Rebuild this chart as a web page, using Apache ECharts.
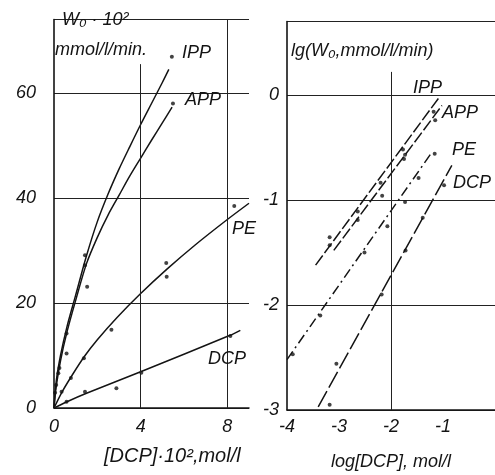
<!DOCTYPE html>
<html><head><meta charset="utf-8">
<script src="https://cdn.jsdelivr.net/npm/echarts@6/dist/echarts.min.js"></script>
<style>html,body{margin:0;padding:0;background:#fff}#c{width:495px;height:475px}</style>
</head><body><div id="c"></div>
<script>
// ---- tick labels ----
const leftXTicks = [0, 4, 8];
const leftYTicks = [0, 20, 40, 60];
const rightXTicks = [-4, -3, -2, -1];
const rightYTicks = [-3, -2, -1, 0];
// vertical grid lines [x, yFrom, yTo]
const leftVGrid = [[4, 0, 65.5], [8, 0, 74]];
const rightVGrid = [[-2, -3, 0.22]];

// ---- left panel: W0·10^2 vs [DCP]·10^2 (curves) ----
const leftCurveIPP = [[0,0],[0.1,5],[0.3,10],[0.6,15.5],[1,21.5],[1.5,29],[2,35.5],[2.5,40.8],[3,45.5],[3.5,49.8],[4,54],[4.5,58],[5,62],[5.3,64.5]];
const leftCurveAPP = [[0,0],[0.1,4],[0.3,9],[0.6,14.5],[1,20.5],[1.5,27.5],[2,32.5],[2.5,36.8],[3,40.5],[3.5,44.2],[4,47.6],[4.5,51],[5,54.3],[5.45,57.3]];
const leftCurvePE  = [[0,0],[0.35,2.9],[0.8,6],[1.4,9.8],[2,13],[2.9,17.2],[4,21.8],[5.2,26.4],[6.5,31],[8,35.9],[9,39]];
const leftCurveDCP = [[0,0],[0.6,1.2],[1.5,2.8],[4,6.9],[8.1,13.8],[8.6,14.8]];
// measured points
const leftPtsIPP = [[0.1,4.4],[0.2,6.6],[0.58,14.2],[1.43,29.1],[5.44,66.9]];
const leftPtsAPP = [[0.05,2.9],[0.25,7.6],[0.58,10.4],[1.43,27.2],[1.53,23.1],[5.49,58]];
const leftPtsPE  = [[0.35,3.1],[0.78,5.7],[1.38,9.5],[2.65,14.9],[5.18,27.6],[5.2,25],[8.32,38.5]];
const leftPtsDCP = [[0.58,1.2],[1.43,3.1],[2.88,3.75],[4.03,6.7],[8.14,13.7]];

// ---- right panel: lg W0 vs log[DCP] ----
const rightLineIPP = [[-3.45,-1.62],[-1.07,-0.02]];
const rightLineAPP = [[-3.1,-1.48],[-1.02,-0.1]];
const rightLinePE  = [[-4,-2.52],[-1.22,-0.55]];
const rightLineDCP = [[-3.4,-2.97],[-0.83,-0.67]];
const rightPtsIPP = [[-3.18,-1.355],[-2.64,-1.11],[-2.2,-0.835],[-1.77,-0.52],[-1.18,-0.16]];
const rightPtsAPP = [[-3.18,-1.43],[-2.64,-1.19],[-2.17,-0.96],[-1.75,-0.61],[-1.73,-0.57],[-1.15,-0.24]];
const rightPtsPE  = [[-3.89,-2.47],[-3.36,-2.10],[-2.51,-1.50],[-2.07,-1.25],[-1.73,-1.02],[-1.47,-0.79],[-1.16,-0.56]];
const rightPtsDCP = [[-3.18,-2.95],[-3.05,-2.56],[-2.18,-1.90],[-1.72,-1.48],[-1.39,-1.17],[-0.98,-0.86]];

const INK = '#141414';
const FONT = '"Liberation Sans", Arial, sans-serif';
const lblBase = {color: INK, fontFamily: FONT, fontStyle: 'italic', fontSize: 18};

function curve(data, xi, type, smooth) {
  return {type: 'line', xAxisIndex: xi, yAxisIndex: xi, data: data, showSymbol: false, silent: true,
    smooth: smooth ? 0.3 : false,
    lineStyle: {color: INK, width: 1.5, type: type || 'solid'}, z: 3};
}
function pts(data, xi) {
  return {type: 'scatter', xAxisIndex: xi, yAxisIndex: xi, data: data, symbol: 'circle', symbolSize: 4,
    itemStyle: {color: INK}, silent: true, z: 4};
}
function vgrid(list) {
  return {silent: true, symbol: 'none', label: {show: false}, animation: false,
    lineStyle: {color: '#222', width: 1, type: 'solid'},
    data: list.map(g => [{coord: [g[0], g[1]]}, {coord: [g[0], g[2]]}])};
}
function txt(text, x, y, size, align) {
  return {type: 'text', x: x, y: y, silent: true, z: 10,
    style: {text: text, fill: INK, font: 'italic ' + (size || 18) + 'px ' + FONT,
      align: align || 'left', verticalAlign: 'middle'}};
}

const chart = echarts.init(document.getElementById('c'), null, {renderer: 'canvas'});
const split = {show: true, lineStyle: {color: '#222', width: 1}};
chart.setOption({
  backgroundColor: '#fff',
  animation: false,
  grid: [
    {left: 54, top: 19.5, width: 195, height: 388.5},
    {left: 287, top: 21.5, width: 210, height: 388.5}
  ],
  xAxis: [
    {gridIndex: 0, type: 'value', min: 0, max: 9, interval: 4,
     axisLine: {show: true, onZero: false, lineStyle: {color: INK, width: 1.5}}, axisTick: {show: false},
     splitLine: {show: false},
     axisLabel: Object.assign({margin: 10, formatter: v => leftXTicks.includes(v) ? String(v) : ''}, lblBase)},
    {gridIndex: 1, type: 'value', min: -4, max: 0, interval: 1,
     axisLine: {show: true, onZero: false, lineStyle: {color: INK, width: 1.5}}, axisTick: {show: false},
     splitLine: {show: false},
     axisLabel: Object.assign({margin: 8, showMaxLabel: false, formatter: v => rightXTicks.includes(v) ? String(v) : ''}, lblBase)}
  ],
  yAxis: [
    {gridIndex: 0, type: 'value', min: 0, max: 74, interval: 20,
     axisLine: {show: true, onZero: false, lineStyle: {color: INK, width: 1.6}}, axisTick: {show: false},
     splitLine: split,
     axisLabel: Object.assign({margin: 18, showMaxLabel: false, formatter: v => leftYTicks.includes(v) ? String(v) : ''}, lblBase)},
    {gridIndex: 1, type: 'value', min: -3, max: 0.7, interval: 1,
     axisLine: {show: true, onZero: false, lineStyle: {color: INK, width: 1.6}}, axisTick: {show: false},
     splitLine: split,
     axisLabel: Object.assign({margin: 8, showMaxLabel: false, formatter: v => rightYTicks.includes(v) ? String(v) : ''}, lblBase)}
  ],
  series: [
    Object.assign(curve(leftCurveIPP, 0, 'solid', true), {markLine: vgrid(leftVGrid)}),
    curve(leftCurveAPP, 0, 'solid', true),
    curve(leftCurvePE, 0, 'solid', true),
    curve(leftCurveDCP, 0, 'solid', true),
    pts(leftPtsIPP, 0), pts(leftPtsAPP, 0), pts(leftPtsPE, 0), pts(leftPtsDCP, 0),
    Object.assign(curve(rightLineIPP, 1, [12, 3], false), {markLine: vgrid(rightVGrid)}),
    curve(rightLineAPP, 1, [12, 3], false),
    curve(rightLinePE, 1, [10, 4, 2, 4], false),
    curve(rightLineDCP, 1, [18, 4], false),
    pts(rightPtsIPP, 1), pts(rightPtsAPP, 1), pts(rightPtsPE, 1), pts(rightPtsDCP, 1)
  ],
  graphic: [
    txt('W\u2080 \u00b7 10\u00b2', 62, 20, 18),
    txt('mmol/l/min.', 55, 50, 18),
    txt('lg(W\u2080,mmol/l/min)', 291, 51, 18),
    txt('[DCP]\u00b710\u00b2,mol/l', 104, 456, 20),
    txt('log[DCP], mol/l', 331, 462, 18),
    txt('IPP', 182, 53, 18),
    txt('APP', 185, 100, 18),
    txt('PE', 232, 229, 18),
    txt('DCP', 208, 359, 18),
    txt('IPP', 413, 88, 18),
    txt('APP', 442, 113, 18),
    txt('PE', 452, 150, 18),
    txt('DCP', 453, 183, 18)
  ]
});
</script>
</body></html>
